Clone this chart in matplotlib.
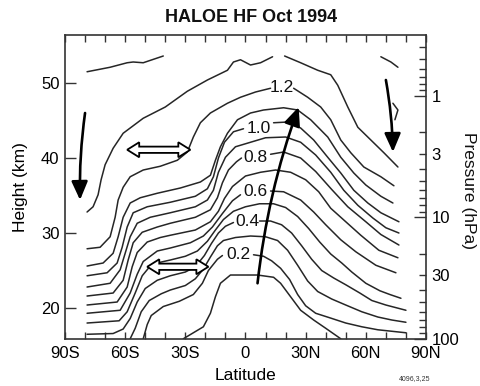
import matplotlib
matplotlib.use("Agg")
import matplotlib.pyplot as plt
from matplotlib.patches import Polygon
import numpy as np

plt.rcParams['font.family'] = ['Liberation Sans', 'DejaVu Sans']

# ---------------- data (latitude in deg, height in km) ----------------
# contour 1.4 (fragments)
c14a_lat = [-79, -67.5, -59, -56, -51, -41]
c14a_h = [51.5, 52.1, 52.7, 52.8, 52.7, 53.6]
c14b_lat = [67.5, 72.5, 76]
c14b_h = [53.5, 52.8, 52.1]
c14c_lat = [73.5, 76, 74.5]
c14c_h = [47.3, 46.4, 45.1]

# contour 1.3
c13a_lat = [-79, -76, -73.5, -72, -70, -66, -61, -51, -40, -29, -19, -9, -6, -2.5, 2.5, 7.5, 13.5]
c13a_h = [32.8, 33.5, 35.1, 37.1, 39.1, 41.3, 43.3, 45.3, 46.8, 48.9, 50.4, 51.7, 52.8, 53.1, 52.4, 52.7, 53.5]
c13b_lat = [19.5, 27.5, 36, 42.5, 46, 51, 56, 62.5, 69, 76]
c13b_h = [53.6, 52.7, 51.7, 51.1, 49.7, 46.8, 44.1, 42.4, 40.7, 38.8]

# contour 1.2
c12a_lat = [-79, -72.5, -67.5, -65, -63.5, -61, -57.5, -51, -42.5, -34, -29, -26, -22.5, -17.5, -9, -2.5, 5, 12.5]
c12a_h = [27.9, 28.1, 29.5, 32.1, 34.4, 36.1, 37.5, 38.4, 38.9, 39.7, 40.8, 42.8, 44.7, 46.0, 47.3, 48.1, 48.8, 49.3]
c12b_lat = [24, 31, 37.5, 42.5, 47.5, 52.5, 59, 67.5, 74]
c12b_h = [49.3, 48.1, 46.8, 45.1, 42.4, 40.7, 38.8, 37.5, 36.3]

# contour 1.1
c11_lat = [-79, -71, -66, -63.5, -61, -57.5, -52.5, -44, -32.5, -22.5, -17.5, -15, -12.5, -9, -4,
           2.5, 9, 19, 26, 32.5, 41, 47.5, 54, 60, 67.5, 73.5]
c11_h = [25.6, 26.0, 27.3, 29.5, 32.1, 34.0, 34.7, 35.3, 36.0, 36.8, 37.7, 39.7, 41.5, 43.3, 45.1,
         46.0, 46.4, 46.7, 46.4, 45.1, 42.8, 40.1, 38.0, 36.4, 34.9, 34.0]

# contour 1.0
c10a_lat = [-79, -69, -64, -61.5, -59, -56, -49, -37.5, -25, -19, -16, -13.5, -10.5, -6, -1]
c10a_h = [24.3, 24.7, 26.0, 28.1, 30.8, 32.7, 33.5, 34.1, 34.9, 35.9, 37.5, 40.0, 42.1, 43.5, 43.9]
c10b_lat = [14, 21, 27.5, 34, 41, 47.5, 54, 61, 67.5, 76.5]
c10b_h = [44.7, 44.8, 44.0, 42.4, 40.1, 38.0, 35.7, 34.0, 32.7, 31.5]

# contour 0.9
c09_lat = [-79, -67.5, -62.5, -60, -57.5, -54, -47.5, -37.5, -25, -19, -16, -13.5, -10, -5, 2.5,
           10, 20, 27.5, 35, 42.5, 49, 56, 63.5, 70, 76.5]
c09_h = [22.8, 23.3, 25.1, 27.3, 29.5, 31.3, 32.1, 32.7, 33.5, 34.4, 35.7, 38.1, 40.1, 41.5, 42.1,
         42.7, 42.8, 42.1, 40.4, 38.1, 35.7, 33.7, 32.0, 30.7, 30.0]

# contour 0.8
c08a_lat = [-79, -66, -61, -58.5, -56, -51.5, -44, -37.5, -25, -17.5, -14, -11.5, -8.5, -4.5, -2]
c08a_h = [21.6, 22.0, 23.7, 26.4, 28.7, 30.1, 30.8, 31.3, 32.1, 33.1, 34.7, 36.7, 38.4, 39.5, 40.0]
c08b_lat = [12.5, 19, 27.5, 35, 43, 51, 60, 67.5, 76.5]
c08b_h = [40.5, 40.8, 40.0, 38.2, 35.8, 33.5, 31.5, 29.8, 28.4]

# contour 0.7
c07_lat = [-79, -64, -59, -56.5, -54, -49, -42.5, -37.5, -25, -17.5, -13.5, -10.5, -6.5, 0, 7.5,
           15, 22.5, 30, 36.5, 42.5, 50, 57.5, 66.5, 76]
c07_h = [20.4, 20.8, 22.8, 25.5, 27.4, 28.8, 29.4, 29.7, 30.4, 31.5, 32.9, 34.6, 36.2, 37.6, 38.1,
         38.4, 38.1, 37.1, 35.5, 33.3, 31.5, 29.7, 27.7, 26.7]

# contour 0.6
c06a_lat = [-79, -62.5, -57.5, -54, -51, -44, -37.5, -27.5, -21, -16.5, -11.5, -6.5, -2.5]
c06a_h = [19.3, 19.7, 22.0, 24.5, 26.2, 27.6, 28.0, 28.7, 29.6, 30.8, 32.6, 34.3, 35.1]
c06b_lat = [12.5, 19, 27.5, 34, 40, 47.5, 55, 65, 75]
c06b_h = [35.6, 35.5, 34.4, 32.8, 31.1, 29.1, 27.5, 25.7, 24.7]

# contour 0.5
c05_lat = [-79, -63, -59, -55, -51.5, -47.5, -42.5, -37.5, -30, -24, -19, -15, -11, -6, 0, 7, 14,
           20, 26, 31.5, 37, 42.5, 48, 53, 60, 67, 72, 77.5]
c05_h = [18.0, 18.3, 19.5, 22.0, 24.3, 25.6, 26.1, 26.4, 26.9, 27.6, 28.9, 30.4, 31.8, 32.9, 33.5,
         33.9, 33.9, 33.4, 32.2, 30.6, 28.8, 27.2, 26.0, 24.8, 23.3, 22.3, 21.8, 21.3]

# contour 0.4
c04a_lat = [-79, -66, -61, -57.5, -54, -50, -44, -37.5, -30, -25, -20.5, -17, -13.5, -10, -6]
c04a_h = [16.5, 16.6, 17.2, 18.6, 20.8, 22.6, 23.7, 24.3, 24.8, 25.5, 27.0, 28.6, 30.0, 30.9, 31.4]
c04b_lat = [7, 12.5, 18, 23, 28, 33, 38, 44, 50, 57, 63, 70, 80]
c04b_h = [31.6, 31.6, 31.1, 30.0, 28.3, 26.5, 25.0, 24.0, 23.1, 22.0, 21.0, 20.4, 19.7]

# contour 0.3
c03_lat = [-57.5, -55, -52, -48, -42, -37.5, -30, -25, -21, -17.5, -14, -11, -5, 2.5, 10, 16, 21,
           26, 31, 36, 43, 50, 58, 66, 73, 80]
c03_h = [15.9, 17.3, 19.5, 21.0, 21.9, 22.4, 23.0, 23.9, 25.2, 26.8, 28.3, 29.0, 29.4, 29.6, 29.5,
         29.0, 27.7, 25.7, 23.6, 22.2, 21.2, 20.4, 19.5, 18.8, 18.4, 18.1]

# contour 0.2
c02a_lat = [-51, -49, -47, -41, -33, -26, -21.5, -18.5, -14, -11.5]
c02a_h = [15.9, 17.8, 19.0, 20.2, 20.9, 21.8, 23.3, 25.0, 26.5, 27.0]
c02b_lat = [4, 9, 13, 17.5, 22, 26, 30, 35, 42, 50, 58, 66, 73, 80]
c02b_h = [27.1, 26.9, 26.3, 25.3, 23.8, 21.8, 20.3, 19.3, 18.7, 18.0, 17.5, 17.1, 16.9, 16.7]

# contour 0.1
c01_lat = [-31, -26, -21, -17.5, -15, -12.5, -7.5, 6, 14, 17.5, 22.5, 27.5, 34, 40, 47.5]
c01_h = [15.9, 16.7, 17.5, 19.3, 21.5, 23.3, 24.4, 24.4, 24.1, 23.3, 21.5, 19.7, 18.4, 17.3, 15.9]

# inline contour labels
clabel_text = ['0.2', '0.4', '0.6', '0.8', '1.0', '1.2']
clabel_lat = [-3.5, 1, 5, 5, 6.5, 18]
clabel_h = [27.1, 31.5, 35.5, 40.1, 44.0, 49.4]

# arrows (tail lat, tail h, head lat, head h, curvature)
circ_arrows = [(6, 23.3, 26.5, 46.8, -0.06),
               (-80, 46.0, -82.5, 34.4, 0.04),
               (70, 50.4, 73.5, 40.8, -0.04)]
mix_arrows = [(-59, -27.5, 41.1), (-49, -18.5, 25.5)]

# axes
lat_ticks = [-90, -60, -30, 0, 30, 60, 90]
lat_labels = ['90S', '60S', '30S', '0', '30N', '60N', '90N']
h_ticks = [20, 30, 40, 50]
p_major = [1, 10, 100]
p_labeled_minor = {3: '3', 30: '30'}
p_minor = [0.4, 0.5, 0.6, 0.7, 0.8, 0.9, 2, 3, 4, 5, 6, 7, 8, 9, 20, 30, 40, 50, 60, 70, 80, 90]
H0, SCALE = 48.3, 16.2   # height of 1 hPa and km per decade


def p2h(p):
    return H0 - SCALE * np.log10(np.asarray(p, dtype=float))


# ---------------- figure ----------------
fig = plt.figure(figsize=(4.81, 3.86), dpi=100)
ax = fig.add_axes([65 / 481, 1 - 339 / 386, 361 / 481, 304 / 386])
ax.set_xlim(-90, 90)
ax.set_ylim(15.87, 56.4)

lc = '#262626'
lw = 1.1
segments = [
    (c14a_lat, c14a_h), (c14b_lat, c14b_h), (c14c_lat, c14c_h),
    (c13a_lat, c13a_h), (c13b_lat, c13b_h),
    (c12a_lat, c12a_h), (c12b_lat, c12b_h),
    (c11_lat, c11_h),
    (c10a_lat, c10a_h), (c10b_lat, c10b_h),
    (c09_lat, c09_h),
    (c08a_lat, c08a_h), (c08b_lat, c08b_h),
    (c07_lat, c07_h),
    (c06a_lat, c06a_h), (c06b_lat, c06b_h),
    (c05_lat, c05_h),
    (c04a_lat, c04a_h), (c04b_lat, c04b_h),
    (c03_lat, c03_h),
    (c02a_lat, c02a_h), (c02b_lat, c02b_h),
    (c01_lat, c01_h),
]
for la, hh in segments:
    ax.plot(la, hh, color=lc, lw=lw, solid_capstyle='round', zorder=2)

for t, la, hh in zip(clabel_text, clabel_lat, clabel_h):
    ax.text(la, hh, t, ha='center', va='center', fontsize=12.5, color='#111111', zorder=3)

for x0, y0, x1, y1, rad in circ_arrows:
    ax.annotate('', xy=(x1, y1), xytext=(x0, y0),
                arrowprops=dict(arrowstyle='-|>,head_length=0.8,head_width=0.35',
                                connectionstyle=f'arc3,rad={rad}', color='black',
                                lw=1.9, shrinkA=0, shrinkB=0, mutation_scale=14),
                zorder=6)


def darrow(x0, x1, y, hl=6.0, hw=1.0, sw=0.42):
    pts = [(x0, y), (x0 + hl, y + hw), (x0 + hl, y + sw), (x1 - hl, y + sw), (x1 - hl, y + hw),
           (x1, y), (x1 - hl, y - hw), (x1 - hl, y - sw), (x0 + hl, y - sw), (x0 + hl, y - hw)]
    ax.add_patch(Polygon(pts, closed=True, fc='white', ec='black', lw=1.3, zorder=5,
                         joinstyle='miter'))


for x0, x1, y in mix_arrows:
    darrow(x0, x1, y)

# ticks
ax.set_xticks(lat_ticks)
ax.set_xticklabels(lat_labels)
ax.set_xticks(np.arange(-80, 90, 10), minor=True)
ax.set_yticks(h_ticks)
ax.set_yticklabels([str(v) for v in h_ticks])
ax.tick_params(axis='x', which='both', direction='in', top=True, bottom=True, length=5,
               width=1.0, labelsize=12, pad=5, color='#333333')
ax.tick_params(axis='y', which='major', direction='in', left=True, right=False, length=8,
               width=1.0, labelsize=12, pad=4, color='#333333')
for s in ax.spines.values():
    s.set_linewidth(1.2)
    s.set_color('#333333')

ax2 = ax.twinx()
ax2.set_ylim(ax.get_ylim())
ax2.set_yticks(p2h(p_major))
ax2.set_yticklabels([str(v) for v in p_major])
ax2.set_yticks(p2h(p_minor), labels=[p_labeled_minor.get(v, '') for v in p_minor], minor=True)
ax2.tick_params(axis='y', which='major', direction='in', length=9, width=1.0, labelsize=12,
                pad=4, color='#333333')
ax2.tick_params(axis='y', which='minor', direction='in', length=5, width=1.0, labelsize=12,
                pad=4, color='#333333')
for s in ax2.spines.values():
    s.set_visible(False)

ax.set_ylabel('Height (km)', fontsize=12.5, labelpad=9)
ax.set_xlabel('Latitude', fontsize=12.5, labelpad=5)
fig.text(469 / 481, 1 - 190 / 386, 'Pressure (hPa)', rotation=270, ha='center', va='center',
         fontsize=12.5, color='#111111')

fig.text(251 / 481, 1 - 18 / 386, 'HALOE HF Oct 1994', ha='center', va='center',
         fontsize=13, fontweight='bold', color='#111111')
fig.text(415 / 481, 1 - 379 / 386, '4096,3,25', ha='center', va='center', fontsize=5,
         color='#333333')

fig.savefig('out.png', dpi=100)
